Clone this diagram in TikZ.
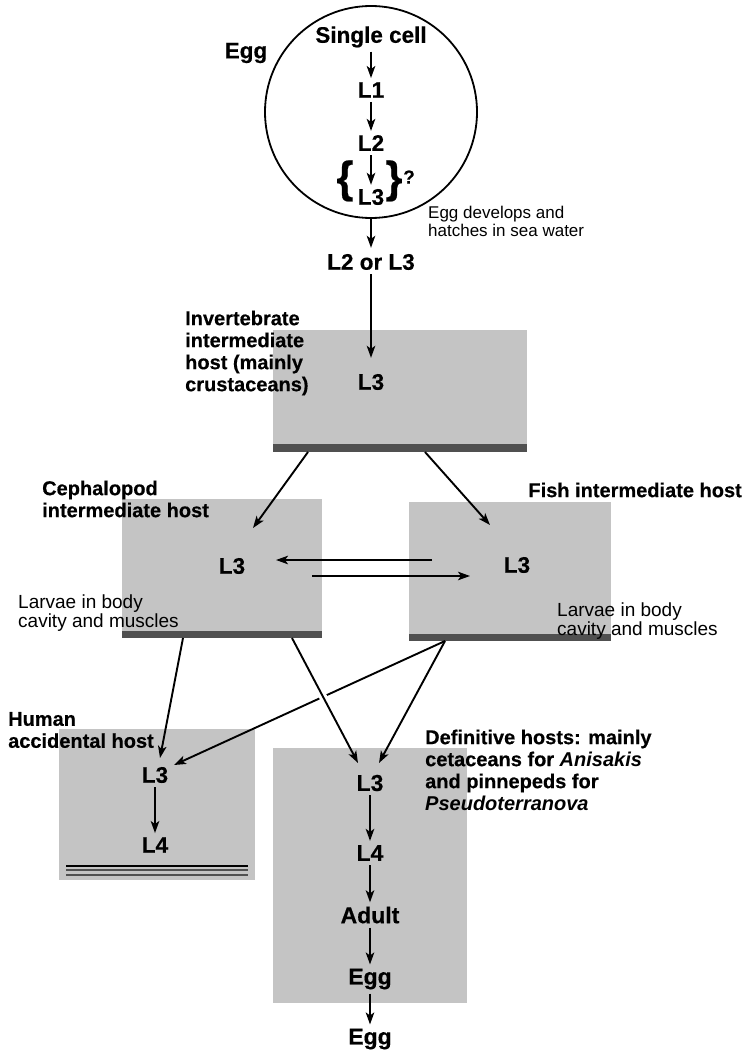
\documentclass[tikz,border=0pt]{standalone}
\usepackage{fontspec}
\setmainfont{Liberation Sans}[BoldFeatures={FakeBold=0.4}]
\usetikzlibrary{arrows.meta,calc}
\definecolor{boxgray}{RGB}{196,196,196}
\definecolor{bargray}{RGB}{80,80,80}
\begin{document}
\begin{tikzpicture}[x=1pt,y=-1pt,
  lab/.style={font=\fontsize{20}{22}\selectfont\bfseries, inner sep=0pt, align=left},
  stage/.style={font=\fontsize{22.5}{24}\selectfont\bfseries, inner sep=4pt},
  stager/.style={font=\fontsize{23}{25}\selectfont\bfseries, inner sep=4pt},
  note/.style={font=\fontsize{17}{18}\selectfont, inner sep=0pt, align=left},
  notel/.style={font=\fontsize{19}{18.5}\selectfont, inner sep=0pt, align=left},
  arr/.style={line width=1.9pt, -{Stealth[length=12pt,width=8.5pt,inset=3pt]}},
  brc/.style={font=\fontsize{44}{44}\selectfont\bfseries, inner sep=0pt},
]
\useasboundingbox (0,0) rectangle (744,1056);
% host boxes
\fill[boxgray] (273,330) rectangle (527,452);
\fill[bargray] (273,444) rectangle (527,452);
\fill[boxgray] (122,499) rectangle (322,638);
\fill[bargray] (122,631) rectangle (322,638);
\fill[boxgray] (409,502) rectangle (611,641);
\fill[bargray] (409,634) rectangle (611,641);
\fill[boxgray] (59,729) rectangle (255,880);
\draw[black, line width=1.1pt] (66,866) -- (248,866);
\draw[bargray, line width=1.6pt] (66,870) -- (248,870);
\draw[bargray, line width=2pt] (66,874.5) -- (248,874.5);
\fill[boxgray] (273,748) rectangle (467,1003);

% egg
\node[draw, circle, line width=1.8pt, minimum size=212pt, inner sep=0pt] (egg) at (371,112) {};
\node[stage] (eggl) at (246,53) {Egg};
\node[stage] (sc) at (371,37) {Single cell};
\node[stage] (l1) at (371,90) {L1};
\node[stage] (l2) at (371,143) {L2};
\node[stage] (l3e) at (371,197) {L3};
\node[brc] (bl) at (345,181) {\{};
\node[brc] (br) at (394,181) {\}};
\node[font=\fontsize{19}{20}\selectfont\bfseries, inner sep=0pt] (q) at (409,177) {?};
\node[note, anchor=west] (dev) at (428,221) {Egg develops and\\hatches in sea water};
\node[stage] (l23) at (371,262) {L2 or L3};

% invertebrate
\node[lab, anchor=west] (invl) at (185,353) {Invertebrate\\intermediate\\host (mainly\\crustaceans)};
\node[stage] (il3) at (371,382) {L3};

% cephalopod and fish
\node[lab, anchor=west] (cephl) at (42,499) {Cephalopod\\intermediate host};
\node[lab, anchor=east] (fishl) at (742,490) {Fish intermediate host};
\node[stage] (cl3) at (232,566) {L3};
\node[stage] (fl3) at (517,565) {L3};
\node[notel, anchor=west] (larl) at (18,613) {Larvae in body\\cavity and muscles};
\node[notel, anchor=west] (larr) at (557,621) {Larvae in body\\cavity and muscles};

% human
\node[lab, anchor=west] (huml) at (8,730) {Human\\accidental host};
\node[stage] (hl3) at (155,775) {L3};
\node[stage] (hl4) at (155,845) {L4};

% definitive
\node[lab, anchor=west] (defl) at (425,770) {Definitive hosts: mainly\\cetaceans for \textit{Anisakis}\\and pinnepeds for\\\textit{Pseudoterranova}};
\node[stager] (dl3) at (370,783) {L3};
\node[stager] (dl4) at (370,853) {L4};
\node[stager] (dad) at (370,915) {Adult};
\node[stager] (deg1) at (370,979) {Egg};
\node[stager] (deg2) at (370,1039) {Egg};

% coordinates for free ends
\coordinate (ib1) at (308,452);
\coordinate (ib2) at (425,452);
\coordinate (ct) at (253,528);
\coordinate (ft) at (490,525);
\coordinate (h1s) at (432,560);
\coordinate (h1e) at (276,560);
\coordinate (h2s) at (312,576);
\coordinate (h2e) at (470,576);
\coordinate (cb1) at (183,638);
\coordinate (cb2) at (292,638);
\coordinate (fb) at (445,641);
\coordinate (ht1) at (160,758);
\coordinate (ht2) at (174,765);
\coordinate (dt1) at (358,763);
\coordinate (dt2) at (379,763);

% connectors
\draw[arr] (sc) -- (l1);
\draw[arr] (l1) -- (l2);
\draw[arr] (l2) -- (l3e);
\draw[arr, shorten >=2pt] (egg) -- (l23);
\draw[arr, shorten >=12pt] (l23) -- (il3);
\draw[arr] (ib1) -- (ct);
\draw[arr] (ib2) -- (ft);
\draw[arr] (h1s) -- (h1e);
\draw[arr] (h2s) -- (h2e);
\draw[arr] (cb1) -- (ht1);
\draw[arr] (fb) -- (ht2);
\draw[white, line width=8pt] ($(cb2)!0.42!(dt1)$) -- ($(cb2)!0.52!(dt1)$);
\draw[arr] (cb2) -- (dt1);
\draw[arr] (fb) -- (dt2);
\draw[arr] (hl3) -- (hl4);
\draw[arr] (dl3) -- (dl4);
\draw[arr] (dl4) -- (dad);
\draw[arr] (dad) -- (deg1);
\draw[arr] (deg1) -- (deg2);
\end{tikzpicture}
\end{document}
